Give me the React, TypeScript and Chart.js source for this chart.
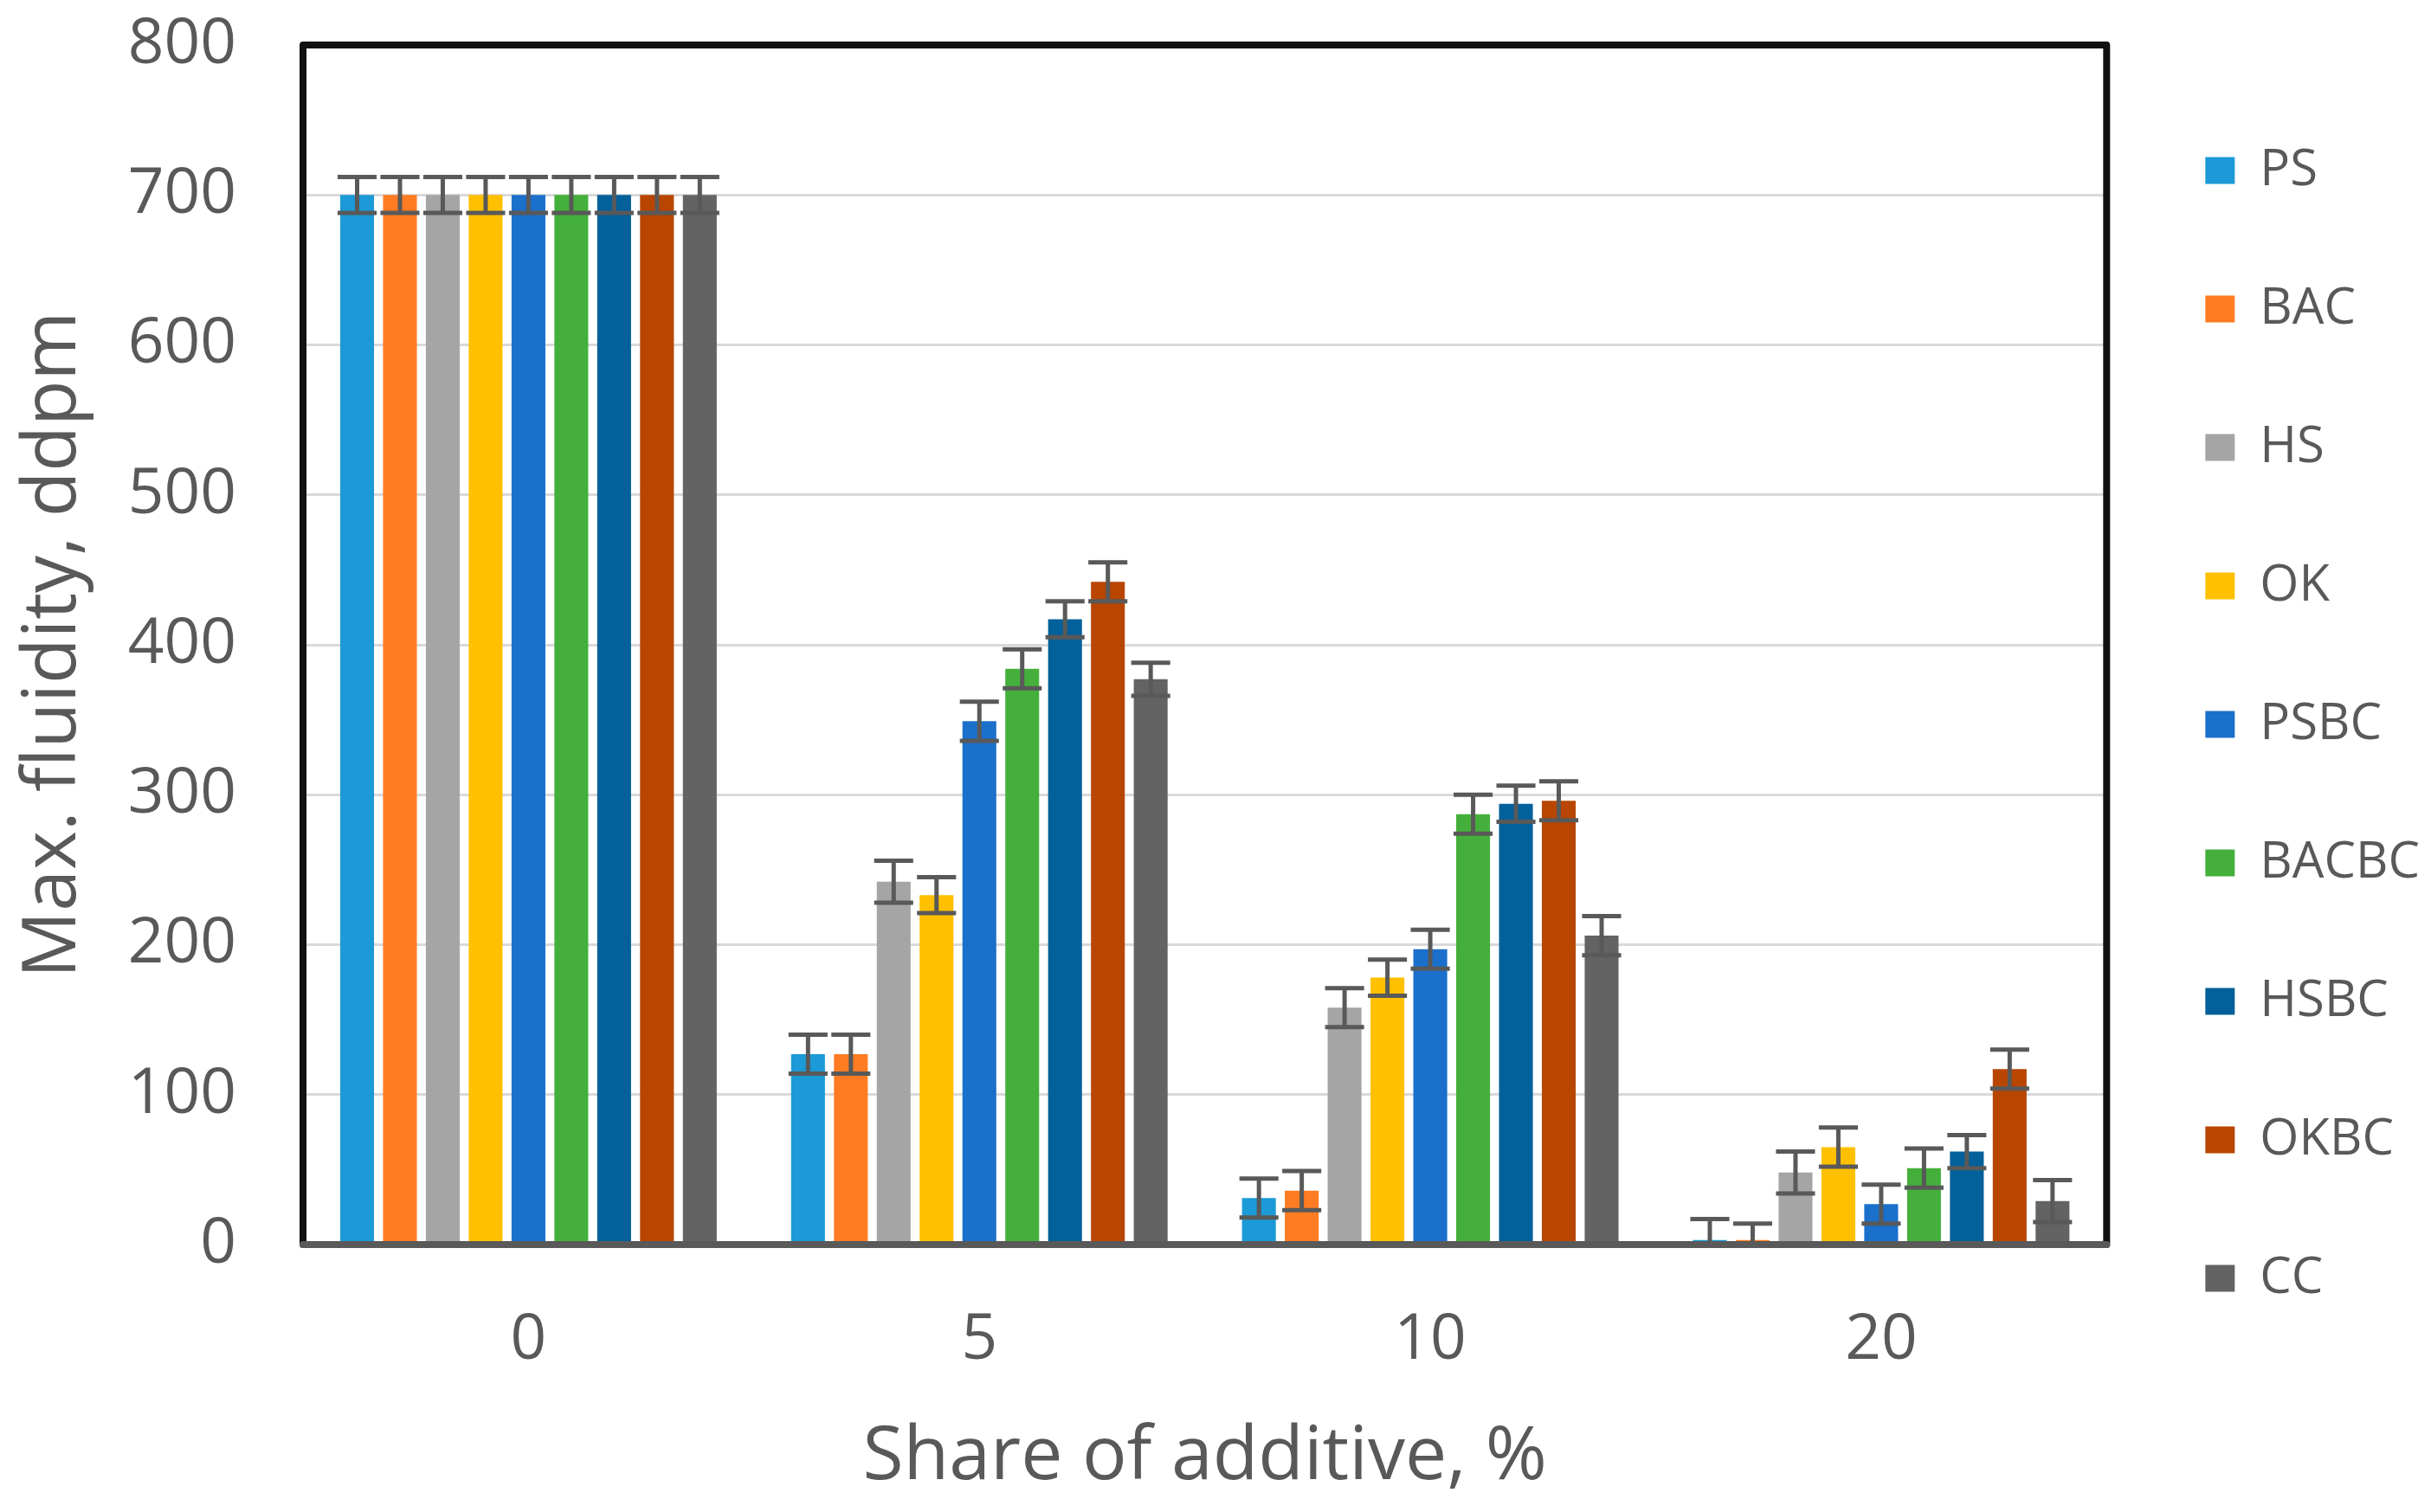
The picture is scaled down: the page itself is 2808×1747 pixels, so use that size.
import React, { useEffect, useRef } from 'react';
import { Chart, registerables } from 'chart.js';

Chart.register(...registerables);

// ---- Data ----
const categories = ['0', '5', '10', '20'];
const seriesNames = ['PS', 'BAC', 'HS', 'OK', 'PSBC', 'BACBC', 'HSBC', 'OKBC', 'CC'];
const seriesColors = ['#1B9AD7', '#FF7C22', '#A5A5A5', '#FFC000', '#1A70CB', '#44B03B', '#02609A', '#B84600', '#636363'];

const PS = [700, 127, 31, 3];
const BAC = [700, 127, 36, 3];
const HS = [700, 242, 158, 48];
const OK = [700, 233, 178, 65];
const PSBC = [700, 349, 197, 27];
const BACBC = [700, 384, 287, 51];
const HSBC = [700, 417, 294, 62];
const OKBC = [700, 442, 296, 117];
const CC = [700, 377, 206, 29];

const PS_err = [12, 13, 13, 14];
const BAC_err = [12, 13, 13, 11];
const HS_err = [12, 14, 13, 14];
const OK_err = [12, 12, 12, 13];
const PSBC_err = [12, 13, 13, 13];
const BACBC_err = [12, 13, 13, 13];
const HSBC_err = [12, 12, 12, 11];
const OKBC_err = [12, 13, 13, 13];
const CC_err = [12, 11, 13, 14];

const seriesValues = [PS, BAC, HS, OK, PSBC, BACBC, HSBC, OKBC, CC];
const seriesErrors = [PS_err, BAC_err, HS_err, OK_err, PSBC_err, BACBC_err, HSBC_err, OKBC_err, CC_err];

const yMin = 0;
const yMax = 800;
const yStep = 100;

const xTitle = 'Share of additive, %';
const yTitle = 'Max. fluidity, ddpm';

const textColor = '#595959';

const errorBarPlugin = {
  id: 'errorBars',
  afterDatasetsDraw(chart: any) {
    const { ctx, chartArea, scales } = chart;
    const y = scales.y;
    ctx.save();
    ctx.beginPath();
    ctx.rect(chartArea.left, chartArea.top, chartArea.right - chartArea.left, chartArea.bottom - chartArea.top);
    ctx.clip();
    ctx.strokeStyle = '#595959';
    ctx.lineWidth = 5;
    chart.data.datasets.forEach((ds: any, i: number) => {
      const meta = chart.getDatasetMeta(i);
      const errs = seriesErrors[i];
      meta.data.forEach((bar: any, j: number) => {
        const v = ds.data[j];
        const e = errs[j];
        const x = bar.x;
        const half = bar.width / 2 + 3;
        const top = y.getPixelForValue(v + e);
        const bot = y.getPixelForValue(v - e);
        ctx.beginPath();
        ctx.moveTo(x, top);
        ctx.lineTo(x, bot);
        ctx.moveTo(x - half, top);
        ctx.lineTo(x + half, top);
        ctx.moveTo(x - half, bot);
        ctx.lineTo(x + half, bot);
        ctx.stroke();
      });
    });
    ctx.restore();
  },
};

const framePlugin = {
  id: 'frame',
  afterDraw(chart: any) {
    const { ctx, chartArea } = chart;
    const { left, right, top, bottom } = chartArea;
    ctx.save();
    ctx.lineJoin = 'round';
    ctx.lineCap = 'round';
    ctx.lineWidth = 8;
    ctx.strokeStyle = '#111111';
    ctx.beginPath();
    ctx.moveTo(left, bottom);
    ctx.lineTo(left, top);
    ctx.lineTo(right, top);
    ctx.lineTo(right, bottom);
    ctx.stroke();
    ctx.strokeStyle = '#595959';
    ctx.beginPath();
    ctx.moveTo(left, bottom);
    ctx.lineTo(right, bottom);
    ctx.stroke();
    ctx.restore();
  },
};

export default function App() {
  const canvasRef = useRef<HTMLCanvasElement | null>(null);

  useEffect(() => {
    if (!canvasRef.current) return;
    Chart.defaults.font.family = "'Open Sans', 'DejaVu Sans', sans-serif";
    const chart = new Chart(canvasRef.current, {
      type: 'bar',
      data: {
        labels: categories,
        datasets: seriesNames.map((name, i) => ({
          label: name,
          data: seriesValues[i],
          backgroundColor: seriesColors[i],
          borderWidth: 0,
          categoryPercentage: 0.855,
          barPercentage: 0.79,
        })),
      },
      options: {
        responsive: false,
        animation: false,
        layout: { padding: { top: 52, right: 3, bottom: 0, left: 0 } },
        plugins: {
          tooltip: { enabled: false },
          legend: {
            position: 'right',
            align: 'start',
            title: { display: true, text: '', padding: 0, font: { size: 14, lineHeight: 1 } },
            labels: {
              color: textColor,
              font: { size: 58 },
              boxWidth: 34,
              boxHeight: 31,
              padding: 102,
            },
          },
        },
        scales: {
          x: {
            type: 'category',
            offset: true,
            grid: { display: true, drawOnChartArea: false, drawTicks: true, tickLength: 67, tickColor: 'rgba(0,0,0,0)', color: 'rgba(0,0,0,0)', offset: true },
            border: { display: false },
            ticks: { color: textColor, font: { size: 73 }, padding: 0, maxRotation: 0 },
            title: { display: true, text: xTitle, color: textColor, font: { size: 86 }, padding: { top: 0, bottom: 11 } },
            afterFit: (s: any) => { s.height = 309; },
          },
          y: {
            type: 'linear',
            min: yMin,
            max: yMax,
            ticks: { stepSize: yStep, color: textColor, font: { size: 73 }, padding: 0 },
            grid: { color: '#D9D9D9', lineWidth: 3, drawTicks: true, tickLength: 77, tickColor: 'rgba(0,0,0,0)' },
            border: { display: false },
            title: { display: true, text: yTitle, color: textColor, font: { size: 86 }, padding: { top: 11, bottom: 0 } },
            afterFit: (s: any) => { s.width = 350; },
          },
          yRight: {
            type: 'linear',
            position: 'right',
            display: true,
            grid: { display: false },
            border: { display: false },
            ticks: { display: false },
            afterFit: (s: any) => { s.width = 12; },
          },
        },
      },
      plugins: [errorBarPlugin, framePlugin],
    } as any);
    return () => chart.destroy();
  }, []);

  return (
    <div style={{ position: 'absolute', left: 0, top: 0, width: 2808, height: 1747, background: '#ffffff' }}>
      <canvas ref={canvasRef} width={2808} height={1747} style={{ display: 'block' }} />
    </div>
  );
}
